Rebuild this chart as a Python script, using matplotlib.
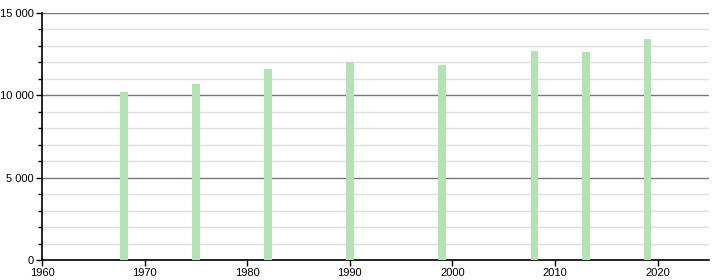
import matplotlib.pyplot as plt
from matplotlib.ticker import MultipleLocator, FuncFormatter

plt.rcParams['font.family'] = ['Liberation Sans', 'DejaVu Sans']

years = [1968, 1975, 1982, 1990, 1999, 2008, 2013, 2019]
population = [10200, 10700, 11600, 12000, 11850, 12700, 12650, 13450]

fig = plt.figure(figsize=(7.2, 2.8), dpi=100)
ax = fig.add_axes([42 / 720, 20 / 280, 667 / 720, 247 / 280])

ax.bar(years, population, width=0.75, color='#b3e3b3', zorder=3)

ax.set_xlim(1960, 2025)
ax.set_ylim(0, 15000)
ax.xaxis.set_major_locator(MultipleLocator(10))
ax.yaxis.set_major_locator(MultipleLocator(5000))
ax.yaxis.set_minor_locator(MultipleLocator(1000))
ax.yaxis.set_major_formatter(FuncFormatter(lambda v, p: f'{int(v):,}'.replace(',', ' ')))

ax.grid(axis='y', which='major', color='#777777', linewidth=1, zorder=1)
ax.grid(axis='y', which='minor', color='#e0e0e0', linewidth=1, zorder=1)

for s in ['top', 'right']:
    ax.spines[s].set_visible(False)
ax.spines['left'].set_linewidth(1.2)
ax.spines['bottom'].set_linewidth(1.2)
ax.tick_params(axis='both', which='major', labelsize=8, length=4, width=1, pad=2)
ax.tick_params(axis='y', which='minor', length=3, width=1)

fig.savefig('out.png', dpi=100)
